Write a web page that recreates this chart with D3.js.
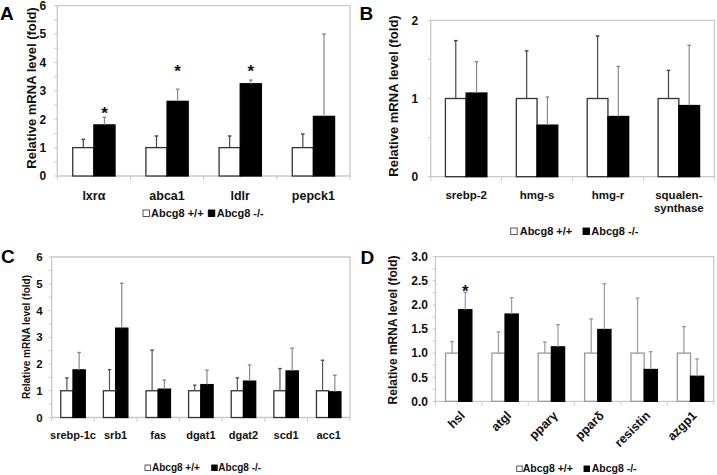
<!DOCTYPE html>
<html>
<head>
<meta charset="utf-8">
<script src="https://cdn.jsdelivr.net/npm/d3@7/dist/d3.min.js"></script>
<style>
  html, body { margin: 0; padding: 0; background: #fff; }
  svg { display: block; font-family: "Liberation Sans", Arial, sans-serif; font-weight: bold; }
</style>
</head>
<body>
<svg id="fig" width="717" height="475"></svg>
<script>
// values: bar = mean fold, sd = upper error length
var catsA = ['lxrα', 'abca1', 'ldlr', 'pepck1'];
var wtA = [1, 1, 1, 1];
var wtSdA = [0.29, 0.41, 0.41, 0.48];
var koA = [1.8, 2.63, 3.25, 2.1];
var koSdA = [0.27, 0.43, 0.13, 2.9];
var starA = [2.38, 3.85, 3.85, null];
var ticksA = [0, 1, 2, 3, 4, 5, 6];

var catsB = ['srebp-2', 'hmg-s', 'hmg-r', 'squalen-\nsynthase'];
var wtB = [1, 1, 1, 1];
var wtSdB = [0.74, 0.61, 0.8, 0.36];
var koB = [1.07, 0.66, 0.77, 0.91];
var koSdB = [0.4, 0.36, 0.64, 0.77];
var starB = [null, null, null, null];
var ticksB = [0, 1, 2];

var catsC = ['srebp-1c', 'srb1', 'fas', 'dgat1', 'dgat2', 'scd1', 'acc1'];
var wtC = [1, 1, 1, 1, 1, 1, 1];
var wtSdC = [0.48, 0.79, 1.52, 0.21, 0.48, 0.83, 1.14];
var koC = [1.78, 3.34, 1.06, 1.23, 1.36, 1.74, 0.96];
var koSdC = [0.65, 1.68, 0.34, 0.54, 0.6, 0.85, 0.62];
var starC = [null, null, null, null, null, null, null];
var ticksC = [0, 1, 2, 3, 4, 5, 6];

var catsD = ['hsl', 'atgl', 'pparγ', 'pparδ', 'resistin', 'azgp1'];
var wtD = [1, 1, 1, 1, 1, 1];
var wtSdD = [0.24, 0.44, 0.23, 0.71, 1.14, 0.55];
var koD = [1.9, 1.81, 1.13, 1.49, 0.66, 0.52];
var koSdD = [0.36, 0.34, 0.46, 0.95, 0.37, 0.36];
var starD = [2.38, null, null, null, null, null];
var ticksD = [0, 0.5, 1, 1.5, 2, 2.5, 3];

var groups = ['Abcg8 +/+', 'Abcg8 -/-'];
var yTitle = 'Relative mRNA level (fold)';

(function () {
  var svg = d3.select('#fig');
  var GRID = '#c9c9c9';

  function panel(o) {
    var g = svg.append('g');
    var y = d3.scaleLinear().domain([0, d3.max(o.ticks)]).range([o.b, o.t]);
    var x0 = d3.scaleBand().domain(o.cats).range([o.l, o.r]);
    var x1 = d3.scaleBand().domain(groups).range([0, x0.bandwidth()]).paddingInner(0).paddingOuter(o.pad);

    // frame (top/right) + axis lines
    g.append('path').attr('d', 'M' + o.l + ',' + o.b + 'V' + o.t + 'H' + o.r + 'V' + o.b + 'Z')
      .attr('fill', 'none').attr('stroke', GRID).attr('stroke-width', 1.3);

    // y axis: labels + small ticks
    var yAx = d3.axisLeft(y).tickValues(o.ticks).tickSize(0).tickPadding(o.tickGap).tickFormat(o.fmt);
    var ya = g.append('g').attr('transform', 'translate(' + o.l + ',0)').call(yAx);
    ya.select('.domain').remove();
    ya.selectAll('text').attr('font-size', o.tickFs).attr('font-family', null).attr('fill', '#111');
    var minor = d3.range(0, d3.max(o.ticks) + 1e-9, o.minor);
    g.selectAll('.ym').data(minor).enter().append('line')
      .attr('x1', o.l - 3).attr('x2', o.l).attr('y1', y).attr('y2', y)
      .attr('stroke', GRID).attr('stroke-width', 1);

    // x ticks at band boundaries
    var bounds = o.cats.map(function (c) { return x0(c); }).concat([o.r]);
    g.selectAll('.xt').data(bounds).enter().append('line')
      .attr('x1', function (d) { return d; }).attr('x2', function (d) { return d; })
      .attr('y1', o.b).attr('y2', o.b + 4).attr('stroke', GRID).attr('stroke-width', 1);

    var rows = o.cats.map(function (c, i) {
      return [
        { c: c, k: groups[0], v: o.wt[i], sd: o.wtSd[i] },
        { c: c, k: groups[1], v: o.ko[i], sd: o.koSd[i] }
      ];
    });
    var flat = [].concat.apply([], rows);
    var bw = x1.bandwidth();

    // bars
    g.selectAll('.bar').data(flat).enter().append('rect')
      .attr('x', function (d) { return x0(d.c) + x1(d.k); })
      .attr('y', function (d) { return y(d.v); })
      .attr('width', bw)
      .attr('height', function (d) { return y(0) - y(d.v); })
      .attr('fill', function (d) { return d.k === groups[0] ? '#fff' : '#000'; })
      .attr('stroke', function (d) { return d.k === groups[0] ? o.wtStroke : '#000'; })
      .attr('stroke-width', 1.3);

    // upper error bars
    var eb = g.selectAll('.err').data(flat).enter().append('g')
      .attr('transform', function (d) { return 'translate(' + (x0(d.c) + x1(d.k) + bw / 2) + ',0)'; });
    function ec(d) { return d.k === groups[0] ? o.wtErr : o.koErr; }
    eb.append('line').attr('x1', 0).attr('x2', 0)
      .attr('y1', function (d) { return y(d.v); }).attr('y2', function (d) { return y(d.v + d.sd); })
      .attr('stroke', ec).attr('stroke-width', 1.2);
    eb.append('line').attr('x1', -1.8).attr('x2', 1.8)
      .attr('y1', function (d) { return y(d.v + d.sd); }).attr('y2', function (d) { return y(d.v + d.sd); })
      .attr('stroke', ec).attr('stroke-width', 1.4);

    // significance stars over the knockout bar
    o.cats.forEach(function (c, i) {
      if (o.stars[i] == null) return;
      g.append('text').attr('x', x0(c) + x1(groups[1]) + bw / 2).attr('y', y(o.stars[i]) + 0.6 * 17)
        .attr('text-anchor', 'middle').attr('font-size', 17).attr('fill', '#111').text('*');
    });

    // category labels
    o.cats.forEach(function (c) {
      var cx = x0(c) + x0.bandwidth() / 2;
      if (o.rot) {
        g.append('text').attr('transform', 'translate(' + (cx + 7) + ',' + (o.b + 15) + ') rotate(-45)')
          .attr('text-anchor', 'end').attr('font-size', o.xFs).attr('fill', '#111').text(c);
        return;
      }
      var t = g.append('text').attr('text-anchor', 'middle').attr('font-size', o.xFs).attr('fill', '#111');
      c.split('\n').forEach(function (line, k) {
        t.append('tspan').attr('x', cx).attr('y', o.b + o.xDy + k * o.lineH).text(line);
      });
    });

    // y title
    g.append('text').attr('transform', 'translate(' + o.yl[0] + ',' + o.yl[1] + ') rotate(-90)')
      .attr('text-anchor', 'middle').attr('dy', '0.35em').attr('font-size', o.yFs).attr('fill', '#111').text(yTitle);

    // panel letter
    g.append('text').attr('x', o.letterAt[0]).attr('y', o.letterAt[1])
      .attr('font-size', 19).attr('fill', '#000').text(o.letter);

    // legend
    groups.forEach(function (k, i) {
      var it = o.leg.items[i];
      g.append('rect').attr('x', it[0]).attr('y', o.leg.y - o.leg.sq).attr('width', o.leg.sq).attr('height', o.leg.sq)
        .attr('fill', i === 0 ? '#fff' : '#000').attr('stroke', i === 0 ? '#444' : '#000').attr('stroke-width', 0.9);
      g.append('text').attr('x', it[1]).attr('y', o.leg.y).attr('font-size', o.leg.fs).attr('fill', '#111').text(k);
    });
  }

  var f0 = d3.format('d'), f1 = d3.format('.1f');

  panel({ letter: 'A', letterAt: [0, 20], cats: catsA, wt: wtA, wtSd: wtSdA, ko: koA, koSd: koSdA, stars: starA,
    ticks: ticksA, fmt: f0, minor: 0.5, l: 57.3, r: 350, t: 5.7, b: 176, pad: 0.73,
    tickFs: 12, tickGap: 11, yFs: 13, yl: [31.7, 88], xFs: 12.5, xDy: 23.5, lineH: 12,
    wtStroke: '#333', wtErr: '#444', koErr: '#8a8a8a',
    leg: { y: 216.5, fs: 11, sq: 6.5, items: [[143, 151], [208.3, 216.7]] } });

  panel({ letter: 'B', letterAt: [359.5, 20], cats: catsB, wt: wtB, wtSd: wtSdB, ko: koB, koSd: koSdB, stars: starB,
    ticks: ticksB, fmt: f0, minor: 0.5, l: 430.7, r: 714.3, t: 20.3, b: 176.7, pad: 0.71,
    tickFs: 12, tickGap: 12.5, yFs: 13, yl: [393, 96], xFs: 11.5, xDy: 22.5, lineH: 12.4,
    wtStroke: '#333', wtErr: '#444', koErr: '#8a8a8a',
    leg: { y: 234.5, fs: 11, sq: 6.5, items: [[510.7, 519.7], [583, 591.3]] } });

  panel({ letter: 'C', letterAt: [1, 263.3], cats: catsC, wt: wtC, wtSd: wtSdC, ko: koC, koSd: koSdC, stars: starC,
    ticks: ticksC, fmt: f0, minor: 0.5, l: 51.7, r: 350, t: 257, b: 417.5, pad: 0.74,
    tickFs: 11.5, tickGap: 9, yFs: 10, yl: [26, 337], xFs: 11, xDy: 21, lineH: 12,
    wtStroke: '#333', wtErr: '#555', koErr: '#8a8a8a',
    leg: { y: 470.5, fs: 10, sq: 5.5, items: [[145, 152], [211.7, 218.3]] } });

  panel({ letter: 'D', letterAt: [360.5, 264.3], cats: catsD, wt: wtD, wtSd: wtSdD, ko: koD, koSd: koSdD, stars: starD,
    ticks: ticksD, fmt: f1, minor: 0.25, l: 435.5, r: 713.7, t: 256.7, b: 401.3, pad: 0.76,
    tickFs: 12, tickGap: 7.5, yFs: 12, yl: [393, 330], xFs: 12.5, rot: true,
    wtStroke: '#999', wtErr: '#999', koErr: '#999',
    leg: { y: 471.5, fs: 10.5, sq: 5.5, items: [[516.7, 522.7], [584, 591.7]] } });
})();
</script>
</body>
</html>
